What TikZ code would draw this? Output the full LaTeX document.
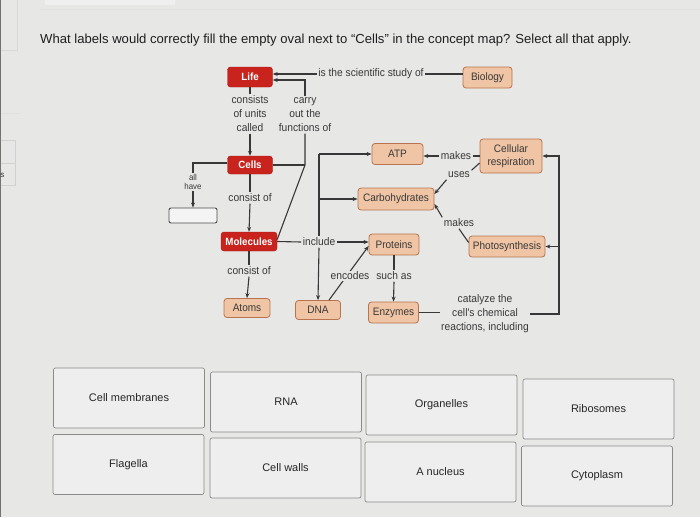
\documentclass[tikz,border=0pt]{standalone}
\usepackage{fontspec}
\setmainfont{Liberation Sans}
\newfontfamily\cmfont[FakeStretch=0.93]{Liberation Sans}
\usetikzlibrary{arrows.meta,calc}
\definecolor{bg}{HTML}{E7E7E6}
\definecolor{redf}{HTML}{C8231D}
\definecolor{redd}{HTML}{A81914}
\definecolor{peach}{HTML}{F0C5A5}
\definecolor{peachd}{HTML}{B7744F}
\definecolor{ink}{HTML}{383838}
\definecolor{boxf}{HTML}{EEEEEE}
\definecolor{boxd}{HTML}{8A8A8A}
\begin{document}
\begin{tikzpicture}[x=1pt,y=-1pt,
  redbox/.style={draw=redd,fill=redf,rounded corners=3pt,text=white,font=\cmfont\fontsize{10.5}{12}\selectfont\bfseries,inner sep=1pt},
  peachbox/.style={draw=peachd,fill=peach,rounded corners=3pt,text=ink,font=\cmfont\fontsize{10.8}{12.5}\selectfont,inner sep=1pt,line width=0.8pt},
  lbl/.style={text=ink,font=\cmfont\fontsize{11}{14}\selectfont,align=center,inner sep=1.5pt},
  conn/.style={draw=ink,line width=1.1pt},
  arr/.style={conn,-{Stealth[length=5pt,width=4pt]}},
  ansbox/.style={draw=boxd,fill=boxf,rounded corners=2pt,minimum width=151pt,minimum height=60pt,font=\fontsize{11}{13}\selectfont,text=black!85,line width=0.7pt}
]
\useasboundingbox (0,0) rectangle (700,517);
\fill[bg] (0,0) rectangle (700,517);
% screen artefacts
\fill[white!35!bg] (45,0) rectangle (175,5);
\draw[black!12,line width=0.6pt] (40,9) -- (700,9);
\draw[black!15,line width=0.6pt] (17,0) -- (17,50) -- (0,50);
\draw[black!12,line width=0.6pt] (0,113) -- (20,113);
\draw[black!18,line width=0.6pt] (-5,140) rectangle (15,163);
\draw[black!18,line width=0.6pt] (-5,163) rectangle (15,185);
\fill[black!55] (0,0) rectangle (1.2,517);
\node[anchor=east,font=\fontsize{22}{24}\selectfont\bfseries,text=black!85] (five) at (4,12) {5};
\node[anchor=east,font=\fontsize{8}{9}\selectfont,text=black!80] (es) at (8,175) {es};

% question
\node[anchor=west,font=\fontsize{13.1}{15}\selectfont,text=black!88,inner sep=0] (q) at (40,40)
  {What labels would correctly fill the empty oval next to “Cells” in the concept map? Select all that apply.};

% concept map nodes
\node[redbox,minimum width=45pt,minimum height=20pt] (life) at (250,77) {Life};
\node[peachbox,minimum width=49pt,minimum height=21pt] (biology) at (487.5,77.5) {Biology};
\node[lbl] (study) at (371,74) {is the scientific study of};
\node[lbl] (consists) at (250,114) {consists\\of units\\called};
\node[lbl] (carry) at (305,115) {carry\\out the\\functions of};
\node[redbox,minimum width=45pt,minimum height=18pt] (cells) at (250,165) {Cells};
\node[lbl,font=\cmfont\fontsize{8.5}{9}\selectfont] (allhave) at (193,182) {all\\have};
\node[draw=black!70,fill=white!55!bg,rounded corners=2pt,minimum width=48pt,minimum height=15pt,line width=0.9pt] (blank) at (193,215.5) {};
\node[lbl] (co1) at (250,198) {consist of};
\node[redbox,minimum width=56pt,minimum height=19pt] (molecules) at (249,241.5) {Molecules};
\node[lbl] (co2) at (249,271) {consist of};
\node[peachbox,minimum width=46pt,minimum height=19pt] (atoms) at (247,308) {Atoms};
\node[peachbox,minimum width=45pt,minimum height=19pt] (dna) at (318,310) {DNA};
\node[lbl] (include) at (319,242) {include};
\node[peachbox,minimum width=50pt,minimum height=21pt] (proteins) at (394,244.5) {Proteins};
\node[peachbox,minimum width=51pt,minimum height=21pt] (atp) at (397.5,154) {ATP};
\node[peachbox,minimum width=76pt,minimum height=22pt] (carbs) at (396,199) {Carbohydrates};
\node[peachbox,minimum width=62pt,minimum height=34pt,align=center] (cr) at (511,156) {Cellular\\respiration};
\node[lbl] (makes1) at (456,156) {makes};
\node[lbl] (uses) at (459,175) {uses};
\node[lbl] (makes2) at (459,223) {makes};
\node[peachbox,minimum width=76pt,minimum height=21pt] (photo) at (507,246.5) {Photosynthesis};
\node[lbl] (suchas) at (394,276) {such as};
\node[peachbox,minimum width=50pt,minimum height=21pt] (enzymes) at (393.5,312.5) {Enzymes};
\node[lbl] (catalyze) at (485,314) {catalyze the\\cell's chemical\\reactions, including};
\coordinate (vtop) at (319,154);
\coordinate (rx) at (559,0);

% connectors
\draw[arr] (study.west) -- (life.east |- study.west);
\draw[conn] (study.east) -- (biology.west |- study.east);
\draw[arr] (carry.north) |- ([yshift=-3pt]life.east);
\draw[conn] (life.south) -- (consists.north);
\draw[arr] (consists.south) -- (cells.north);
\draw[conn] (carry.south) -- (carry.south |- cells.east) -- ([yshift=2pt]molecules.east);
\draw[conn] (cells.east) -- (carry.south |- cells.east);
\draw[conn] ([yshift=2pt]cells.west) -| (allhave.north);
\draw[arr] (allhave.south) -- (blank.north);
\draw[conn] (cells.south) -- (co1.north);
\draw[arr] (co1.south) -- (molecules.north);
\draw[conn] (molecules.south) -- (co2.north);
\draw[arr] (co2.south) -- (atoms.north);
\draw[conn] (molecules.east) -- (include.west);
\draw[arr] (include.east) -- (proteins.west |- include.east);
\draw[arr] (vtop) -- (atp.west);
\draw[conn] (vtop) -- (include.north);
\draw[arr] (vtop |- carbs.west) -- (carbs.west);
\draw[arr] (include.south) -- (dna.north);
\draw[arr] (makes1.west) -- (atp.east |- makes1.west);
\draw[conn] (makes1.east) -- (cr.west |- makes1.east);
\draw[conn] ([yshift=-7pt]cr.west) -- (uses.north east);
\draw[arr] (uses.south west) -- ([yshift=5pt]carbs.east);
\draw[arr] (makes2.north west) -- ([yshift=-5pt]carbs.east);
\draw[conn] (makes2.south) -- ([yshift=4pt]photo.west);
\draw[arr] ([xshift=11pt]dna.north) -- ([yshift=-1.5pt]proteins.west);
\node[lbl,fill=bg,inner sep=0.5pt] (encodes) at (350,276) {encodes};
\draw[conn] (proteins.south) -- (suchas.north);
\draw[arr] (suchas.south) -- (enzymes.north);
\draw[conn] (enzymes.east) -- (enzymes.east -| catalyze.west);
\draw[arr] (catalyze.east) -- (catalyze.east -| rx) -- (rx |- cr.east) -- (cr.east);
\draw[arr] (rx |- photo.east) -- (photo.east);

% answer boxes
\node[ansbox] (a1) at (129,398) {Cell membranes};
\node[ansbox] (a2) at (286,402) {RNA};
\node[ansbox] (a3) at (441.5,405) {Organelles};
\node[ansbox] (a4) at (598.5,409) {Ribosomes};
\node[ansbox] (b1) at (128.5,464.5) {Flagella};
\node[ansbox] (b2) at (285.5,468) {Cell walls};
\node[ansbox] (b3) at (440.5,472) {A nucleus};
\node[ansbox] (b4) at (597,476) {Cytoplasm};
\end{tikzpicture}
\end{document}
